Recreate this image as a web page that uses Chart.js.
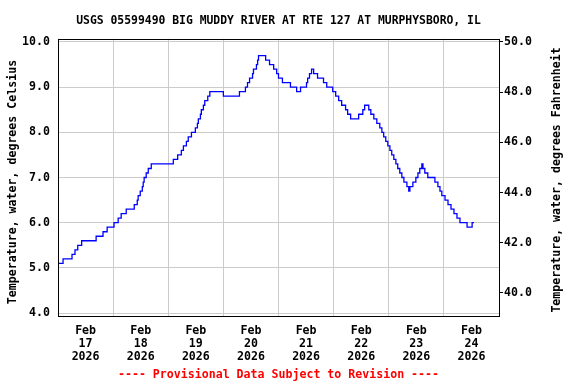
<!DOCTYPE html>
<html>
<head>
<meta charset="utf-8">
<script src="https://cdn.jsdelivr.net/npm/chart.js@4.4.1/dist/chart.umd.min.js"></script>
<style>
  html, body { margin: 0; padding: 0; background: #fff; }
  #wrap { width: 576px; height: 384px; }
</style>
</head>
<body>
<div id="wrap"><canvas id="grafica"></canvas></div>
<script>
// hours since Feb 17 2026 00:00 when the reading changes, and the new value (deg C)
var hours = [0, 2.2, 6.1, 7.4, 8.6, 10.3, 16.6, 19.6, 21.4, 24.4, 26.2, 27.5, 29.7, 33.2, 34.5, 34.9,
  35.8, 36.7, 37.1, 37.5, 38.4, 39.3, 40.6, 50.2, 52.1, 53.7, 54.6, 55.9, 56.7, 58.1, 59.8, 60.7,
  61.1, 62.0, 62.4, 63.3, 63.9, 65.2, 66.1, 72.0, 79.0, 81.6, 82.5, 83.4, 84.7, 85.1, 86.4, 86.9,
  87.3, 90.4, 92.1, 93.9, 95.2, 96.0, 97.7, 101.2, 103.9, 105.6, 108.2, 108.7, 109.5, 110.4, 111.3,
  113.0, 115.6, 117.0, 119.6, 120.9, 122.2, 123.5, 125.2, 126.1, 127.4, 130.9, 132.7, 133.5, 135.3,
  136.2, 137.5, 138.8, 140.1, 141.0, 141.8, 142.7, 143.6, 144.5, 145.3, 146.2, 147.1, 147.9, 148.8,
  149.7, 150.6, 151.9, 152.7, 153.2, 154.5, 155.8, 156.7, 157.5, 158.4, 158.9, 159.7, 161.0, 164.1,
  165.4, 166.3, 167.1, 168.5, 169.8, 171.1, 172.4, 173.7, 175.0, 178.1, 180.3, 181.1];
var tempC = [5.1, 5.2, 5.3, 5.4, 5.5, 5.6, 5.7, 5.8, 5.9, 6.0, 6.1, 6.2, 6.3, 6.4, 6.5, 6.6,
  6.7, 6.8, 6.9, 7.0, 7.1, 7.2, 7.3, 7.4, 7.5, 7.6, 7.7, 7.8, 7.9, 8.0, 8.1, 8.2,
  8.3, 8.4, 8.5, 8.6, 8.7, 8.8, 8.9, 8.8, 8.9, 9.0, 9.1, 9.2, 9.3, 9.4, 9.5, 9.6,
  9.7, 9.6, 9.5, 9.4, 9.3, 9.2, 9.1, 9.0, 8.9, 9.0, 9.1, 9.2, 9.3, 9.4, 9.3,
  9.2, 9.1, 9.0, 8.9, 8.8, 8.7, 8.6, 8.5, 8.4, 8.3, 8.4, 8.5, 8.6, 8.5,
  8.4, 8.3, 8.2, 8.1, 8.0, 7.9, 7.8, 7.7, 7.6, 7.5, 7.4, 7.3, 7.2, 7.1,
  7.0, 6.9, 6.8, 6.7, 6.8, 6.9, 7.0, 7.1, 7.2, 7.3, 7.2, 7.1, 7.0, 6.9,
  6.8, 6.7, 6.6, 6.5, 6.4, 6.3, 6.2, 6.1, 6.0, 5.9, 6.0, 6.0];

var dayLabels = ['17', '18', '19', '20', '21', '22', '23', '24'];
var dayTicks = [0, 24, 48, 72, 96, 120, 144, 168, 192];
var celsiusTicks = [4, 5, 6, 7, 8, 9, 10];
var fahrenheitTicks = [40, 42, 44, 46, 48, 50];

var tituloC = 'Temperature, water, degrees Celsius';
var tituloF = 'Temperature, water, degrees Fahrenheit';

var puntos = [];
for (var i = 0; i < hours.length; i++) {
    puntos.push({x: hours[i], y: tempC[i]});
}

var cMin = 3.933, cMax = 10.073;
var fuente = "bold 11.6px 'DejaVu Sans Mono', monospace";

Chart.defaults.font.family = "'DejaVu Sans Mono', monospace";
Chart.defaults.font.weight = 'bold';
Chart.defaults.font.size = 11.6;
Chart.defaults.color = '#000';

// frame round the plot and both axis titles (both read bottom to top)
var marco = {
    id: 'marco',
    afterDraw: function(chart) {
        var a = chart.chartArea;
        var ctx = chart.ctx;
        ctx.save();
        ctx.strokeStyle = '#000';
        ctx.lineWidth = 1;
        ctx.strokeRect(Math.round(a.left) + 0.5, Math.round(a.top) + 0.5,
            Math.round(a.right - a.left), Math.round(a.bottom - a.top));

        ctx.fillStyle = '#000';
        ctx.font = fuente;
        ctx.textAlign = 'center';
        ctx.textBaseline = 'middle';

        ctx.save();
        ctx.translate(13, 182);
        ctx.rotate(-Math.PI / 2);
        ctx.fillText(tituloC, 0, 0);
        ctx.restore();

        ctx.save();
        ctx.translate(557, 180);
        ctx.rotate(-Math.PI / 2);
        ctx.fillText(tituloF, 0, 0);
        ctx.restore();

        ctx.restore();
    }
};

var gra = document.getElementById('grafica').getContext('2d');
var chart = new Chart(gra, {
    type: 'line',
    data: {
        datasets: [{
            data: puntos,
            borderColor: '#0000ff',
            borderWidth: 1.3,
            pointRadius: 0,
            stepped: 'before',
            fill: false
        }]
    },
    options: {
        responsive: true,
        maintainAspectRatio: false,
        animation: false,
        layout: { padding: 0 },
        plugins: {
            legend: { display: false },
            tooltip: { enabled: false },
            title: {
                display: true,
                fullSize: false,
                text: 'USGS 05599490 BIG MUDDY RIVER AT RTE 127 AT MURPHYSBORO, IL',
                font: { size: 11.4, weight: 'bold' },
                color: '#000',
                padding: { top: 14, bottom: 11 }
            },
            subtitle: {
                display: true,
                fullSize: false,
                position: 'bottom',
                text: '---- Provisional Data Subject to Revision ----',
                color: '#ff0000',
                font: { size: 11.6, weight: 'bold' },
                padding: { top: 0, bottom: 2 }
            }
        },
        scales: {
            x: {
                type: 'linear',
                min: 0,
                max: 192,
                afterBuildTicks: function(s) { s.ticks = dayTicks.map(function(v) { return {value: v}; }); },
                afterFit: function(s) { s.height = 52; },
                grid: { color: '#cccccc', drawTicks: false },
                border: { display: false },
                ticks: {
                    autoSkip: false,
                    maxRotation: 0,
                    padding: 8,
                    labelOffset: 27.6,
                    font: { lineHeight: 1.12 },
                    callback: function(v, idx) {
                        if (idx >= dayLabels.length) return '';
                        return ['Feb', dayLabels[idx], '2026'];
                    }
                }
            },
            y: {
                position: 'left',
                min: cMin,
                max: cMax,
                afterBuildTicks: function(s) { s.ticks = celsiusTicks.map(function(v) { return {value: v}; }); },
                afterFit: function(s) { s.width = 58; },
                grid: { color: '#cccccc', drawTicks: false },
                border: { display: false },
                ticks: {
                    padding: 8,
                    callback: function(v) { return v.toFixed(1); }
                }
            },
            y2: {
                position: 'right',
                min: cMin * 1.8 + 32,
                max: cMax * 1.8 + 32,
                afterBuildTicks: function(s) { s.ticks = fahrenheitTicks.map(function(v) { return {value: v}; }); },
                afterFit: function(s) { s.width = 77; },
                grid: { drawOnChartArea: false, drawTicks: true, tickLength: 4, color: '#000' },
                border: { display: false },
                ticks: {
                    padding: 1,
                    callback: function(v) { return v.toFixed(1); }
                }
            }
        }
    },
    plugins: [marco]
});
</script>
</body>
</html>
